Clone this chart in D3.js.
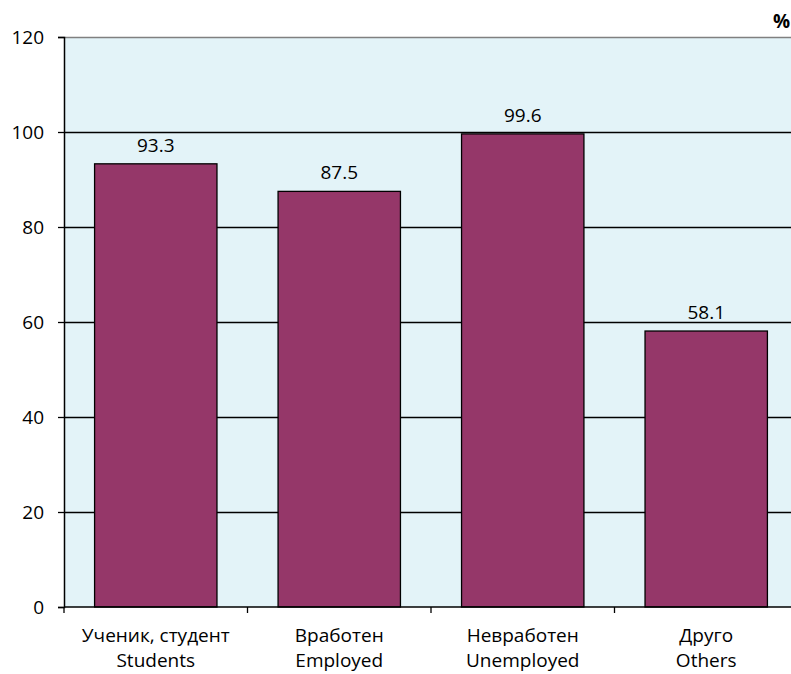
<!DOCTYPE html>
<html><head><meta charset="utf-8">
<script src="https://cdn.jsdelivr.net/npm/d3@7"></script>
<style>body{margin:0;background:#fff}svg{display:block}text{font-family:"Open Sans","Noto Sans",sans-serif;fill:#000}</style>
</head><body>
<svg id="c" width="791" height="674"></svg>
<script>
const categoriesMk = ["Ученик, студент","Вработен","Невработен","Друго"];
const categoriesEn = ["Students","Employed","Unemployed","Others"];
const values = [93.3, 87.5, 99.6, 58.1];
const yTicks = [0,20,40,60,80,100,120];

const FS = 19;
const svg = d3.select("#c");
const L=64, R=798, T=37, B=607;
const x = d3.scaleBand().domain(d3.range(values.length)).range([L,R]).paddingInner(0.333).paddingOuter(0.1667);
const y = d3.scaleLinear().domain([0,120]).range([B,T]);

svg.append("rect").attr("x",L).attr("y",T).attr("width",R-L).attr("height",B-T).attr("fill","#E3F3F8");
// gridlines
svg.append("g").selectAll("line").data(yTicks.filter(d=>d>0 && d<120)).join("line")
  .attr("x1",L).attr("x2",R).attr("y1",d=>Math.round(y(d))+0.5).attr("y2",d=>Math.round(y(d))+0.5)
  .attr("stroke","#000").attr("stroke-width",1.3);
svg.append("line").attr("x1",L).attr("x2",R).attr("y1",T+0.5).attr("y2",T+0.5).attr("stroke","#808080").attr("stroke-width",1.3);

// bars
svg.append("g").selectAll("rect").data(values).join("rect")
  .attr("x",(d,i)=>x(i)).attr("width",x.bandwidth())
  .attr("y",d=>y(d)).attr("height",d=>B-y(d))
  .attr("fill","#953769").attr("stroke","#000").attr("stroke-width",1.3);

// value labels
svg.append("g").selectAll("text").data(values).join("text")
  .attr("x",(d,i)=>x(i)+x.bandwidth()/2).attr("y",d=>y(d)-12)
  .attr("text-anchor","middle").attr("font-size",FS).text(d=>d.toFixed(1));

// y axis
const ya = svg.append("g").attr("transform",`translate(${L},0)`)
  .call(d3.axisLeft(y).tickValues(yTicks).tickSize(6).tickPadding(14));
ya.select(".domain").attr("stroke","#000").attr("stroke-width",1.5);
ya.selectAll(".tick line").attr("stroke","#000").attr("stroke-width",1.3);
ya.selectAll(".tick text").attr("font-size",FS).attr("font-family","'Open Sans','Noto Sans',sans-serif").attr("dy","0.35em");

// x axis
const xb = d3.scaleLinear().domain([0,values.length]).range([L,R]);
svg.append("line").attr("x1",L).attr("x2",R).attr("y1",B).attr("y2",B).attr("stroke","#000").attr("stroke-width",1.5);
svg.append("g").selectAll("line").data(d3.range(values.length+1)).join("line")
  .attr("x1",d=>xb(d)).attr("x2",d=>xb(d)).attr("y1",B).attr("y2",B+6).attr("stroke","#000").attr("stroke-width",1.3);

const xl = svg.append("g").selectAll("text").data(values).join("text")
  .attr("x",(d,i)=>x(i)+x.bandwidth()/2).attr("text-anchor","middle").attr("font-size",FS);
xl.append("tspan").attr("x",(d,i)=>x(i)+x.bandwidth()/2).attr("y",642).text((d,i)=>categoriesMk[i]);
xl.append("tspan").attr("x",(d,i)=>x(i)+x.bandwidth()/2).attr("y",667).text((d,i)=>categoriesEn[i]);

svg.append("text").attr("x",790).attr("y",28).attr("text-anchor","end").attr("font-size",FS).attr("font-weight","bold").text("%");
</script>
</body></html>
